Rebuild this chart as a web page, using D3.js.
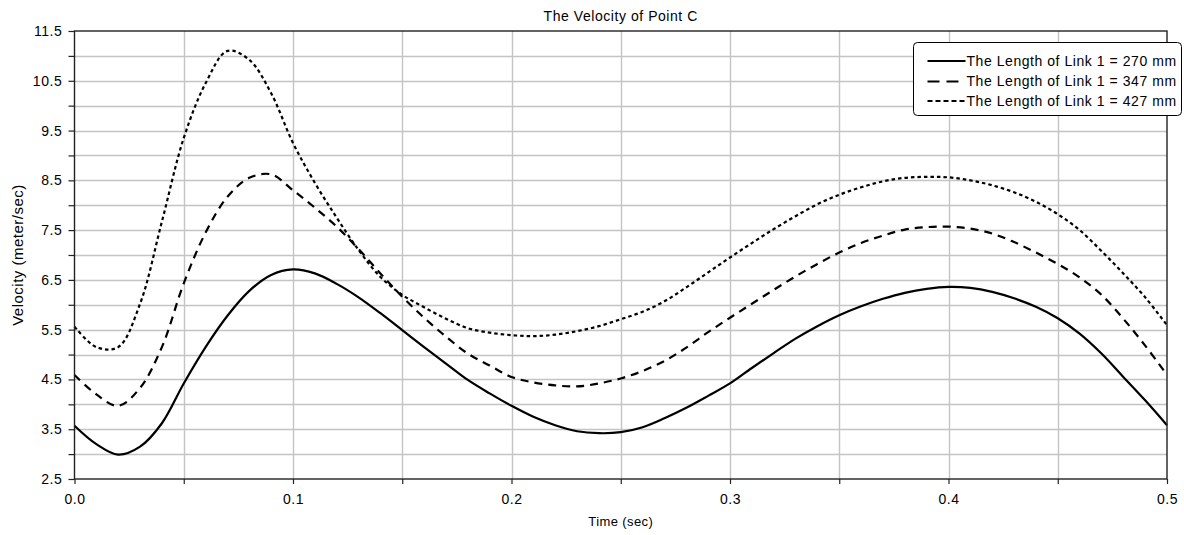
<!DOCTYPE html>
<html>
<head>
<meta charset="utf-8">
<script src="https://cdn.jsdelivr.net/npm/d3@7"></script>
<style>
  body { margin: 0; background: #fff; }
  text { font-family: "Liberation Sans", Arial, sans-serif; fill: #000; }
</style>
</head>
<body>
<script>
// time samples (sec)
const times = d3.range(0, 51).map(i => +(i * 0.01).toFixed(2));

// velocity of point C (meter/sec)
const link270 = [3.57, 3.20, 2.99, 3.15, 3.62, 4.42, 5.15, 5.78, 6.28, 6.60,
  6.71, 6.63, 6.42, 6.15, 5.83, 5.49, 5.15, 4.82, 4.49, 4.22,
  3.97, 3.75, 3.58, 3.46, 3.42, 3.44, 3.54, 3.72, 3.93, 4.17,
  4.42, 4.73, 5.03, 5.32, 5.57, 5.79, 5.97, 6.12, 6.24, 6.32,
  6.36, 6.34, 6.26, 6.13, 5.96, 5.73, 5.42, 5.02, 4.55, 4.08,
  3.58];
const link347 = [4.59, 4.20, 3.97, 4.33, 5.15, 6.43, 7.45, 8.17, 8.55, 8.62,
  8.30, 7.95, 7.57, 7.12, 6.63, 6.16, 5.74, 5.36, 5.02, 4.78,
  4.55, 4.44, 4.38, 4.36, 4.42, 4.52, 4.67, 4.87, 5.14, 5.45,
  5.74, 6.02, 6.30, 6.57, 6.82, 7.05, 7.24, 7.39, 7.51, 7.56,
  7.57, 7.53, 7.43, 7.26, 7.05, 6.82, 6.55, 6.20, 5.72, 5.18,
  4.59];
const link427 = [5.56, 5.15, 5.15, 6.02, 7.67, 9.35, 10.45, 11.10, 10.92, 10.25,
  9.25, 8.45, 7.75, 7.10, 6.56, 6.20, 5.95, 5.72, 5.53, 5.44,
  5.39, 5.37, 5.40, 5.47, 5.57, 5.71, 5.86, 6.07, 6.35, 6.65,
  6.95, 7.24, 7.52, 7.78, 8.02, 8.21, 8.36, 8.48, 8.55, 8.57,
  8.56, 8.50, 8.40, 8.26, 8.07, 7.82, 7.50, 7.08, 6.63, 6.15,
  5.59];

const seriesNames = [
  "The Length of Link 1 = 270 mm",
  "The Length of Link 1 = 347 mm",
  "The Length of Link 1 = 427 mm"
];
const yTickLabels = [2.5, 3.5, 4.5, 5.5, 6.5, 7.5, 8.5, 9.5, 10.5, 11.5];
const xTickLabels = [0, 0.1, 0.2, 0.3, 0.4, 0.5];

const W = 1184, H = 535;
const margin = { top: 31, right: 17, bottom: 56, left: 74.5 };

const svg = d3.select("body").append("svg")
  .attr("width", W)
  .attr("height", H);

const x = d3.scaleLinear().domain([0, 0.5]).range([margin.left, W - margin.right]);
const y = d3.scaleLinear().domain([2.5, 11.5]).range([H - margin.bottom, margin.top]);

const yGrid = d3.range(3, 11.5, 0.5);
const xGrid = d3.range(1, 10).map(i => i * 0.05);

// grid
svg.append("g")
  .selectAll("line")
  .data(yGrid)
  .join("line")
  .attr("x1", x(0)).attr("x2", x(0.5))
  .attr("y1", d => Math.round(y(d)) + 0.5)
  .attr("y2", d => Math.round(y(d)) + 0.5)
  .attr("stroke", "#c4c4c4")
  .attr("stroke-width", 1.4);

svg.append("g")
  .selectAll("line")
  .data(xGrid)
  .join("line")
  .attr("x1", d => Math.round(x(d)) + 0.5)
  .attr("x2", d => Math.round(x(d)) + 0.5)
  .attr("y1", y(2.5)).attr("y2", y(11.5))
  .attr("stroke", "#c4c4c4")
  .attr("stroke-width", 1.4);

// curves
const line = d3.line()
  .x((d, i) => x(times[i]))
  .y(d => y(d))
  .curve(d3.curveCatmullRom.alpha(0.5));

const series = [
  { values: link270, dash: null },
  { values: link347, dash: "8,6" },
  { values: link427, dash: "3.5,3" }
];

svg.append("g")
  .selectAll("path")
  .data(series)
  .join("path")
  .attr("d", d => line(d.values))
  .attr("fill", "none")
  .attr("stroke", "#000")
  .attr("stroke-width", 2.2)
  .attr("stroke-dasharray", d => d.dash);

// frame
svg.append("rect")
  .attr("x", x(0)).attr("y", y(11.5))
  .attr("width", x(0.5) - x(0))
  .attr("height", y(2.5) - y(11.5))
  .attr("fill", "none")
  .attr("stroke", "#222")
  .attr("stroke-width", 1.4);

// y axis
const yAxis = svg.append("g")
  .attr("transform", `translate(${x(0)},0)`)
  .call(d3.axisLeft(y)
    .tickValues(d3.range(2.5, 12, 0.5))
    .tickSize(6)
    .tickPadding(6)
    .tickFormat(d => yTickLabels.includes(d) ? d3.format(".1f")(d) : ""));
yAxis.select(".domain").remove();
yAxis.selectAll("line").attr("stroke", "#222").attr("stroke-width", 1.2);
yAxis.selectAll("text")
  .style("font-size", "14px")
  .style("letter-spacing", "0.6px")
  .style("font-family", "Liberation Sans, Arial, sans-serif")
  .attr("fill", "#000");

// x axis
const xAxis = svg.append("g")
  .attr("transform", `translate(0,${y(2.5)})`)
  .call(d3.axisBottom(x)
    .tickValues(d3.range(0, 11).map(i => i * 0.05))
    .tickSize(5)
    .tickPadding(10)
    .tickFormat(d => xTickLabels.some(v => Math.abs(v - d) < 1e-9) ? d3.format(".1f")(d) : ""));
xAxis.select(".domain").remove();
xAxis.selectAll("line").attr("stroke", "#222").attr("stroke-width", 1.2);
xAxis.selectAll("text")
  .style("font-size", "14px")
  .style("letter-spacing", "0.5px")
  .style("font-family", "Liberation Sans, Arial, sans-serif")
  .attr("fill", "#000");

// titles
svg.append("text")
  .attr("x", (x(0) + x(0.5)) / 2)
  .attr("y", 21)
  .attr("text-anchor", "middle")
  .style("font-size", "14px")
  .style("letter-spacing", "0.55px")
  .text("The Velocity of Point C");

svg.append("text")
  .attr("x", (x(0) + x(0.5)) / 2)
  .attr("y", 526)
  .attr("text-anchor", "middle")
  .style("font-size", "13px")
  .style("letter-spacing", "0.4px")
  .text("Time (sec)");

svg.append("text")
  .attr("transform", `translate(23,${(y(2.5) + y(11.5)) / 2}) rotate(-90)`)
  .attr("text-anchor", "middle")
  .style("font-size", "15px")
  .style("letter-spacing", "0.5px")
  .text("Velocity (meter/sec)");

// legend
const legend = svg.append("g").attr("transform", "translate(913.5,42.5)");
legend.append("rect")
  .attr("width", 268)
  .attr("height", 73)
  .attr("rx", 4)
  .attr("fill", "#fff")
  .attr("stroke", "#000")
  .attr("stroke-width", 1);

const rows = legend.selectAll("g.row")
  .data(series)
  .join("g")
  .attr("class", "row")
  .attr("transform", (d, i) => `translate(0,${[18.5, 39, 58.5][i]})`);

rows.append("line")
  .attr("x1", 14).attr("x2", 52)
  .attr("stroke", "#000")
  .attr("stroke-width", 2.2)
  .attr("stroke-dasharray", d => d.dash === "8,6" ? "12,7" : d.dash === "3.5,3" ? "5,3" : null);

rows.append("text")
  .attr("x", 53)
  .attr("dy", "0.35em")
  .style("font-size", "14px")
  .style("letter-spacing", "0.55px")
  .text((d, i) => seriesNames[i]);
</script>
</body>
</html>
